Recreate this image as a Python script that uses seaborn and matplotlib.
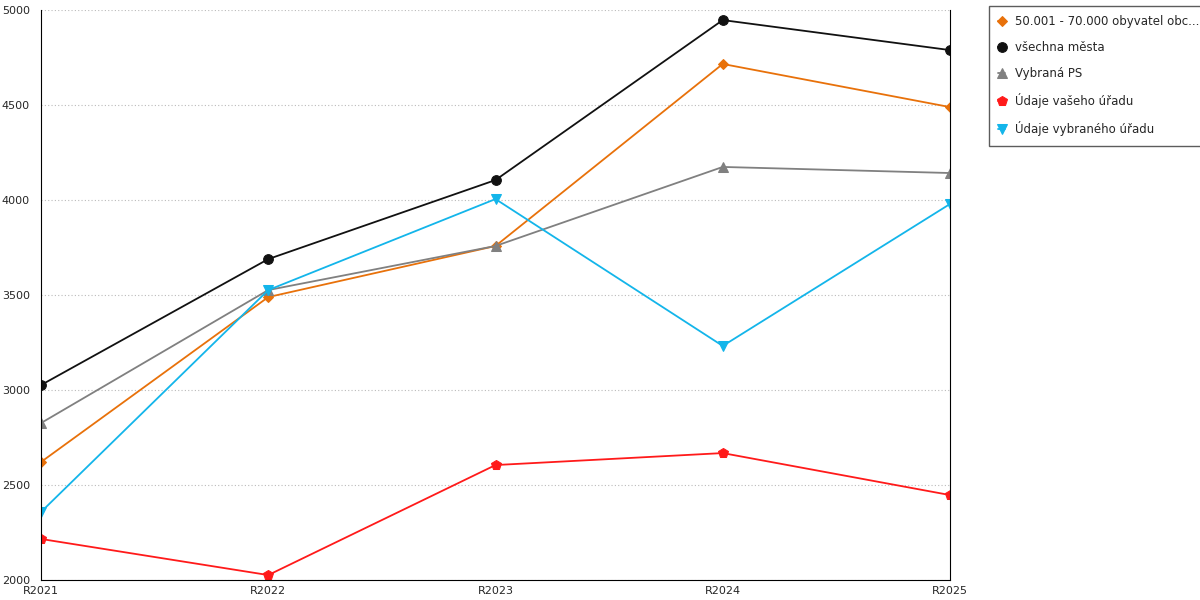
import matplotlib
matplotlib.use("Agg")
import matplotlib.pyplot as plt
import seaborn as sns
import pandas as pd

years = ["R2021", "R2022", "R2023", "R2024", "R2025"]
s_orange = [2621, 3489, 3758, 4716, 4489]
s_black = [3026, 3689, 4105, 4947, 4789]
s_gray = [2826, 3526, 3758, 4174, 4142]
s_red = [2216, 2026, 2605, 2668, 2447]
s_blue = [2358, 3526, 4005, 3232, 3979]
names = ["50.001 - 70.000 obyvatel obc...", "všechna města", "Vybraná PS",
         "Údaje vašeho úřadu", "Údaje vybraného úřadu"]
colors = ["#e8710a", "#111111", "#808080", "#ff1a1a", "#13b5ea"]
markers = ["D", "o", "^", "p", "v"]
sizes = [5, 7, 7, 7, 7]

sns.set_style("white")
plt.rcParams['font.family'] = ['DejaVu Sans']
fig = plt.figure(figsize=(12, 6), dpi=100)
ax = fig.add_axes([41/1200, 20/600, 909/1200, 570/600])
for vals, n, c, m, s in zip([s_orange, s_black, s_gray, s_red, s_blue], names, colors, markers, sizes):
    df = pd.DataFrame({"x": range(len(years)), "y": vals})
    sns.lineplot(data=df, x="x", y="y", ax=ax, color=c, marker=m, markersize=s,
                 markeredgecolor=c, linewidth=1.3, label=n)
ax.set_xlim(0, 4)
ax.set_ylim(2000, 5000)
ax.set_xticks(range(5))
ax.set_xticklabels(years, fontsize=8)
ax.set_xticks([0.5, 1.5, 2.5, 3.5], minor=True)
ax.tick_params(axis='x', which='both', direction='in', length=5, pad=4)
ax.set_yticks([2000, 2500, 3000, 3500, 4000, 4500, 5000])
ax.tick_params(axis='y', labelsize=8, length=0, pad=8)
ax.yaxis.grid(True, linestyle=(0, (1, 2)), color="#bbbbbb", linewidth=0.8)
ax.set_xlabel(""); ax.set_ylabel("")
ax.spines["top"].set_visible(False)
for sp in ["left", "right", "bottom"]:
    ax.spines[sp].set_color("black"); ax.spines[sp].set_linewidth(0.8)
ax.legend(loc="upper left", bbox_to_anchor=(983/1200, 1.0), bbox_transform=fig.transFigure,
          fontsize=8.5, frameon=True, fancybox=False, edgecolor="#333333", labelspacing=1.1,
          handlelength=0.6, borderpad=0.8)
fig.savefig("out.png", dpi=100)
